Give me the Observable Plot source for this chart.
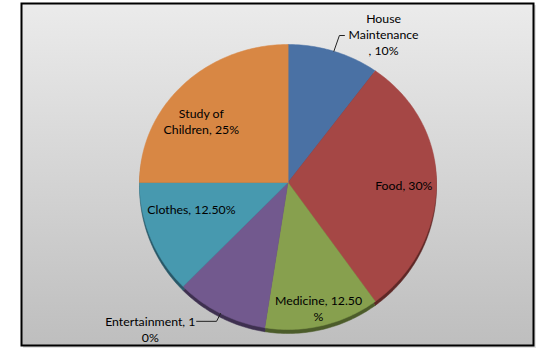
<!DOCTYPE html>
<html>
<head>
<meta charset="utf-8">
<script src="https://cdn.jsdelivr.net/npm/d3@7"></script>
<script src="https://cdn.jsdelivr.net/npm/@observablehq/plot@0.6"></script>
<style>
  html, body { margin: 0; padding: 0; background: #ffffff; }
  #chart svg { display: block; }
</style>
</head>
<body>
<div id="chart"></div>
<script>
// ---- data ----
const categories = ["House Maintenance", "Food", "Medicine", "Entertainment", "Clothes", "Study of Children"];
const values = [10, 30, 12.5, 10, 12.5, 25];
const valueLabels = ["10%", "30%", "12.50%", "10%", "12.50%", "25%"];
const labelText = ["House\nMaintenance\n, 10%", "Food, 30%", "Medicine, 12.50\n%", "Entertainment, 1\n0%", "Clothes, 12.50%", "Study of\nChildren, 25%"];
const colors = ["#4A71A4", "#A54745", "#87A04E", "#72598E", "#4799AF", "#D88744"];
const sideColors = ["#2C4463", "#5E2826", "#4C5C2A", "#3E3050", "#285868", "#7E4E26"];

// ---- label layout (radius factor and angle nudge, in degrees) ----
const labelRadius = [1.257, 0.78, 0.88, 1.36, 0.674, 0.737];
const labelTurn = [12.8, 1, 0, 16, 7.3, -7.4];
const leaderElbow = [1.12, null, null, 1.06, null, null];
const leaderTail = [0.034, null, null, -0.134, null, null];
// pie is drawn slightly taller below the centre than above (Excel 3D tilt)
const lowerStretch = 147 / 138;

// ---- geometry from data ----
const arcs = d3.pie().sort(null).value(d => d)(values);
const rad = d => d * Math.PI / 180;
const py = v => (v < 0 ? v * lowerStretch : v);
const slicePts = [];
arcs.forEach((a, i) => {
  slicePts.push({name: categories[i], x: 0, y: 0, fill: colors[i], side: sideColors[i]});
  const n = Math.max(2, Math.ceil((a.endAngle - a.startAngle) / rad(1)));
  for (let k = 0; k <= n; k++) {
    const t = a.startAngle + (a.endAngle - a.startAngle) * k / n;
    slicePts.push({name: categories[i], x: Math.sin(t), y: py(Math.cos(t)), fill: colors[i], side: sideColors[i]});
  }
});

const labels = arcs.map((a, i) => {
  const mid = (a.startAngle + a.endAngle) / 2 + rad(labelTurn[i]);
  return {text: labelText[i], x: labelRadius[i] * Math.sin(mid), y: py(labelRadius[i] * Math.cos(mid))};
});

const leaders = [];
arcs.forEach((a, i) => {
  if (leaderElbow[i] == null) return;
  const mid = (a.startAngle + a.endAngle) / 2;
  const ex = leaderElbow[i] * Math.sin(mid), ey = py(leaderElbow[i] * Math.cos(mid));
  leaders.push({id: i, x: Math.sin(mid), y: py(Math.cos(mid))});
  leaders.push({id: i, x: ex, y: ey});
  leaders.push({id: i, x: ex + leaderTail[i], y: ey});
});

const defs = () => {
  const d = d3.create("svg:defs");
  const lg = d.append("linearGradient").attr("id", "bgGrad")
    .attr("x1", 0).attr("y1", 0).attr("x2", 0).attr("y2", 1);
  lg.append("stop").attr("offset", "0%").attr("stop-color", "#EBEBEB");
  lg.append("stop").attr("offset", "100%").attr("stop-color", "#BEBEBE");
  return d.node();
};

const chart = Plot.plot({
  width: 553,
  height: 363,
  marginLeft: 21,
  marginRight: 20,
  marginTop: 3,
  marginBottom: 18,
  x: {domain: [-1, 1], range: [139, 436], axis: null},
  y: {domain: [-1, 1], range: [320, 44], axis: null},
  color: {type: "identity"},
  style: {fontFamily: "Lato, 'Open Sans', sans-serif"},
  marks: [
    defs,
    Plot.frame({fill: "#d6d6d6", stroke: "#e2e2e2", dx: 2, dy: 2}),
    Plot.frame({fill: "url(#bgGrad)", stroke: "#000", strokeWidth: 2}),
    Plot.line(slicePts, {x: "x", y: "y", z: "name", fill: "side", stroke: "side", strokeWidth: 0.5, curve: "linear-closed", dy: 4}),
    Plot.line(slicePts, {x: "x", y: "y", z: "name", fill: "fill", stroke: "fill", strokeWidth: 0.5, curve: "linear-closed"}),
    Plot.line(leaders, {x: "x", y: "y", z: "id", stroke: "#222", strokeWidth: 1}),
    Plot.text(labels, {x: "x", y: "y", text: "text", fill: "#000", fontSize: 12.3, lineHeight: 1.3, textAnchor: "middle", lineAnchor: "middle"})
  ]
});
document.getElementById("chart").appendChild(chart);
</script>
</body>
</html>
